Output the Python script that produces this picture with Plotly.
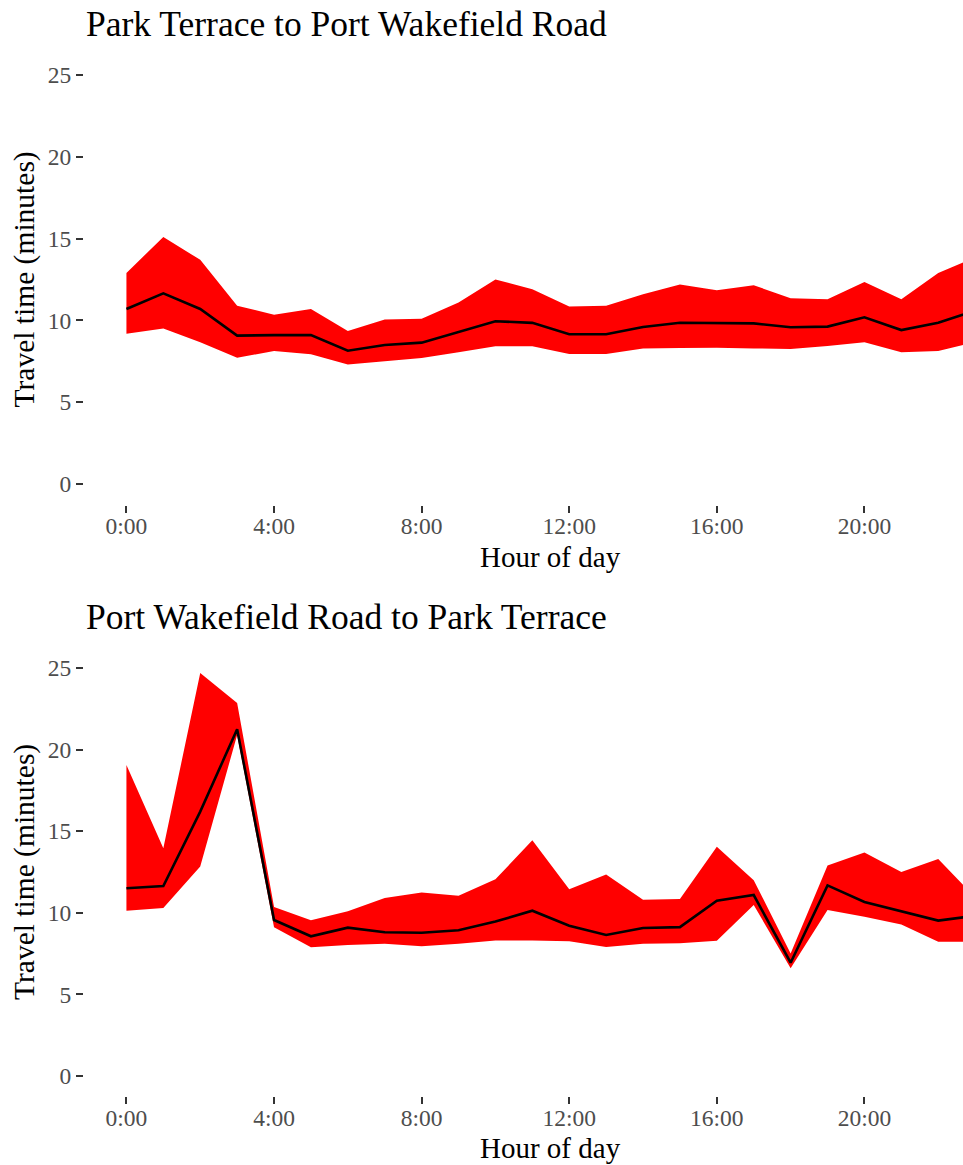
import plotly.graph_objects as go

# ---- data ----
hours = list(range(24))
x_tick_vals = [0, 4, 8, 12, 16, 20]
x_tick_text = ["0:00", "4:00", "8:00", "12:00", "16:00", "20:00"]
y_tick_vals = [0, 5, 10, 15, 20, 25]

title_top = "Park Terrace to Port Wakefield Road"
title_bottom = "Port Wakefield Road to Park Terrace"

top_upper = [12.9, 15.1, 13.7, 10.9, 10.35, 10.7, 9.35, 10.05, 10.1, 11.1, 12.5, 11.9,
             10.85, 10.9, 11.6, 12.2, 11.85, 12.15, 11.35, 11.3, 12.35, 11.3, 12.9, 13.85]
top_median = [10.7, 11.65, 10.7, 9.07, 9.1, 9.1, 8.15, 8.5, 8.64, 9.3, 9.95, 9.85,
              9.15, 9.15, 9.6, 9.86, 9.82, 9.82, 9.58, 9.62, 10.19, 9.41, 9.86, 10.6]
top_lower = [9.19, 9.5, 8.66, 7.72, 8.13, 7.93, 7.3, 7.5, 7.7, 8.05, 8.42, 8.42,
             7.95, 7.95, 8.29, 8.31, 8.33, 8.29, 8.25, 8.43, 8.66, 8.05, 8.13, 8.68]

bot_upper = [19.05, 13.95, 24.7, 22.85, 10.35, 9.55, 10.1, 10.9, 11.25, 11.05, 12.05, 14.45,
             11.45, 12.35, 10.8, 10.85, 14.05, 12.0, 7.5, 12.9, 13.7, 12.5, 13.3, 10.95]
bot_median = [11.5, 11.64, 16.2, 21.25, 9.56, 8.56, 9.09, 8.81, 8.78, 8.93, 9.46, 10.13,
              9.21, 8.64, 9.07, 9.12, 10.74, 11.09, 6.94, 11.68, 10.66, 10.11, 9.52, 9.82]
bot_lower = [10.13, 10.29, 12.83, 20.9, 9.11, 7.89, 8.03, 8.1, 7.95, 8.1, 8.3, 8.3,
             8.25, 7.9, 8.1, 8.13, 8.29, 10.48, 6.6, 10.17, 9.76, 9.29, 8.23, 8.23]

# ---- layout geometry ----
W, H = 963, 1165
L = 84
px_per_hour = 36.9
x_range = [-1.15, -1.15 + (W - L) / px_per_hour]
y_range = [-1.25, 26.25]

def pfy(px):
    return 1 - px / H

def pfx(px):
    return (px - L) / (W - L)

top_dom = [pfy(504.5), pfy(54.5)]
bot_dom = [pfy(1096.4), pfy(647.6)]

FONT = "Liberation Serif, Times New Roman, serif"

fig = go.Figure()

def add_panel(upper, median, lower, xa, ya):
    fig.add_trace(go.Scatter(x=hours, y=lower, mode="lines", line=dict(width=0, color="red"),
                             showlegend=False, hoverinfo="skip", xaxis=xa, yaxis=ya))
    fig.add_trace(go.Scatter(x=hours, y=upper, mode="lines", line=dict(width=0, color="red"),
                             fill="tonexty", fillcolor="#FF0000",
                             showlegend=False, hoverinfo="skip", xaxis=xa, yaxis=ya))
    fig.add_trace(go.Scatter(x=hours, y=median, mode="lines", line=dict(width=2.6, color="black"),
                             showlegend=False, xaxis=xa, yaxis=ya))

add_panel(top_upper, top_median, top_lower, "x", "y")
add_panel(bot_upper, bot_median, bot_lower, "x2", "y2")

xcommon = dict(range=x_range, tickmode="array", tickvals=x_tick_vals, ticktext=x_tick_text,
               showgrid=False, zeroline=False, showline=False, ticks="outside", ticklen=7,
               tickwidth=2, tickcolor="#333333", ticklabelstandoff=-7,
               tickfont=dict(family=FONT, size=23.5, color="#4D4D4D"), domain=[0, 1])
ycommon = dict(range=y_range, tickmode="array", tickvals=y_tick_vals,
               showgrid=False, zeroline=False, showline=False, ticks="outside", ticklen=7,
               tickwidth=2, tickcolor="#333333",
               tickfont=dict(family=FONT, size=23.5, color="#4D4D4D"))

fig.update_layout(
    width=W, height=H,
    margin=dict(l=L, r=0, t=0, b=0),
    paper_bgcolor="white", plot_bgcolor="white",
    xaxis=dict(**xcommon, anchor="y"),
    yaxis=dict(**ycommon, domain=top_dom, anchor="x"),
    xaxis2=dict(**xcommon, anchor="y2"),
    yaxis2=dict(**ycommon, domain=bot_dom, anchor="x2"),
    font=dict(family=FONT),
)

ann = []
# titles
ann.append(dict(text=title_top, x=pfx(84), y=pfy(24), xref="paper", yref="paper",
                xanchor="left", yanchor="middle", showarrow=False,
                font=dict(family=FONT, size=35.5, color="black")))
ann.append(dict(text=title_bottom, x=pfx(84), y=pfy(617), xref="paper", yref="paper",
                xanchor="left", yanchor="middle", showarrow=False,
                font=dict(family=FONT, size=35.5, color="black")))
# axis titles
for ycen_x, ycen_y in [(557, 279.5), (1148, 872)]:
    ann.append(dict(text="Hour of day", x=pfx(550.5), y=pfy(ycen_x), xref="paper", yref="paper",
                    xanchor="center", yanchor="middle", showarrow=False,
                    font=dict(family=FONT, size=29, color="black")))
    ann.append(dict(text="Travel time (minutes)", x=pfx(24), y=pfy(ycen_y), xref="paper", yref="paper",
                    xanchor="center", yanchor="middle", showarrow=False, textangle=-90,
                    font=dict(family=FONT, size=29.5, color="black")))
fig.update_layout(annotations=ann)

fig.write_html("out.html", config={"displayModeBar": False},
               post_script="document.body.style.margin='0';document.body.style.overflow='hidden';")
